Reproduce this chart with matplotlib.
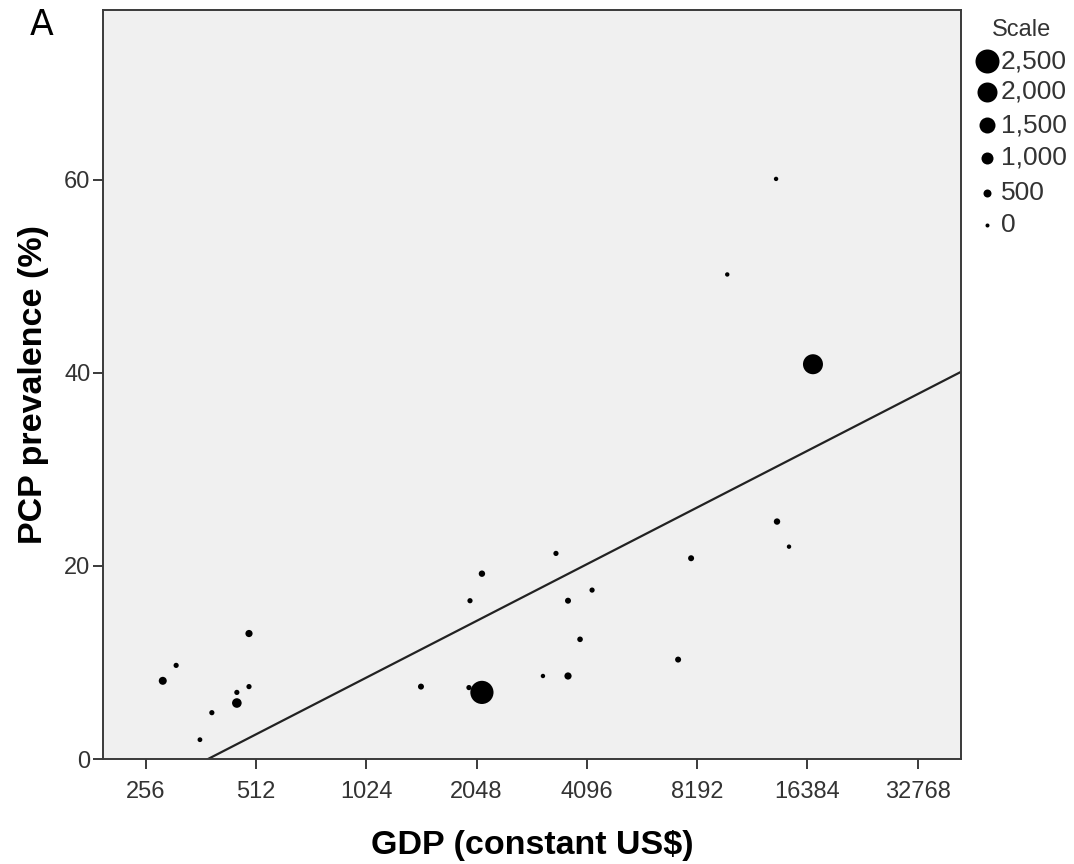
import matplotlib
matplotlib.use("Agg")
import matplotlib.pyplot as plt
from matplotlib.lines import Line2D
from matplotlib.ticker import FixedLocator, FixedFormatter, NullLocator
import numpy as np

# ---- data ----
gdp = [285, 310, 360, 388, 454, 454, 490, 490, 1444, 1965, 1952, 2118, 2118,
       3108, 3373, 3638, 3638, 3924, 4232, 7267, 7885, 9897, 13450, 13530,
       14590, 16960]
pcp = [8.1, 9.7, 2.0, 4.8, 5.8, 6.9, 13.0, 7.5, 7.5, 16.4, 7.4, 19.2, 6.9,
       8.6, 21.3, 16.4, 8.6, 12.4, 17.5, 10.3, 20.8, 50.2, 60.1, 24.6,
       22.0, 40.9]
scale = [500, 150, 100, 150, 700, 150, 400, 150, 250, 150, 150, 300, 2400,
         50, 150, 250, 400, 200, 150, 250, 250, 50, 50, 300, 50, 2000]

# regression line: pcp = intercept + slope * log2(gdp)
fit_intercept = -50.33
fit_slope = 5.876

x_ticks = [256, 512, 1024, 2048, 4096, 8192, 16384, 32768]
x_tick_labels = ["256", "512", "1024", "2048", "4096", "8192", "16384", "32768"]
y_ticks = [0, 20, 40, 60]
y_tick_labels = ["0", "20", "40", "60"]
legend_values = [2500, 2000, 1500, 1000, 500, 0]
legend_labels = ["2,500", "2,000", "1,500", "1,000", "500", "0"]

# ---- figure ----
W, H = 1074, 864
fig = plt.figure(figsize=(W / 100, H / 100), dpi=100)
fig.patch.set_facecolor("white")

L, R, T, B = 103, 961, 10, 759
ax = fig.add_axes([L / W, 1 - B / H, (R - L) / W, (B - T) / H])
ax.set_facecolor("#f0f0f0")

fam = ["Liberation Sans", "DejaVu Sans"]
px2pt = 0.72


def diam_px(v):
    return 4.0 + 8.0 * v / 1000.0


sizes = [(diam_px(v) * px2pt) ** 2 for v in scale]

ax.set_xscale("log", base=2)
ax.set_xlim(2 ** 7.613, 2 ** 15.392)
ax.set_ylim(0, 77.6)

ax.scatter(gdp, pcp, s=sizes, c="black", edgecolors="none", zorder=3)

xl = np.array(ax.get_xlim())
xs = np.geomspace(xl[0], xl[1], 200)
ax.plot(xs, fit_intercept + fit_slope * np.log2(xs), color="#222222",
        lw=1.6, zorder=2, clip_on=True)

ax.xaxis.set_major_locator(FixedLocator(x_ticks))
ax.xaxis.set_major_formatter(FixedFormatter(x_tick_labels))
ax.xaxis.set_minor_locator(NullLocator())
ax.yaxis.set_major_locator(FixedLocator(y_ticks))
ax.yaxis.set_major_formatter(FixedFormatter(y_tick_labels))

for sp in ax.spines.values():
    sp.set_color("#3a3a3a")
    sp.set_linewidth(1.4)

ax.tick_params(axis="both", direction="out", length=7, width=1.4,
               color="#3a3a3a", labelcolor="#333333", labelsize=17)
ax.tick_params(axis="x", pad=9)
ax.tick_params(axis="y", pad=2)
for lab in ax.get_xticklabels() + ax.get_yticklabels():
    lab.set_family(fam)

ax.set_xlabel("GDP (constant US$)", fontsize=24.5, fontweight="bold",
              family=fam, color="black", labelpad=19)
ax.set_ylabel("PCP prevalence (%)", fontsize=24.5, fontweight="bold",
              family=fam, color="black", labelpad=11)

# panel letter
fig.text(42 / W, 1 - 25 / H, "A", fontsize=25, family=["DejaVu Sans"],
         ha="center", va="center", color="black")

# legend (manual)
fig.text(1022 / W, 1 - 30 / H, "Scale", fontsize=17, family=fam,
         ha="center", va="center", color="#333333")
leg_y = [61, 92, 125, 158, 193, 225]
for v, lab, yy in zip(legend_values, legend_labels, leg_y):
    fig.add_artist(Line2D([987 / W], [1 - yy / H], marker="o", linestyle="",
                          markersize=diam_px(v) * px2pt, color="black",
                          markeredgewidth=0, transform=fig.transFigure))
    fig.text(1001 / W, 1 - yy / H, lab, fontsize=19, family=fam,
             ha="left", va="center", color="#333333")

fig.savefig("out.png", dpi=100)
